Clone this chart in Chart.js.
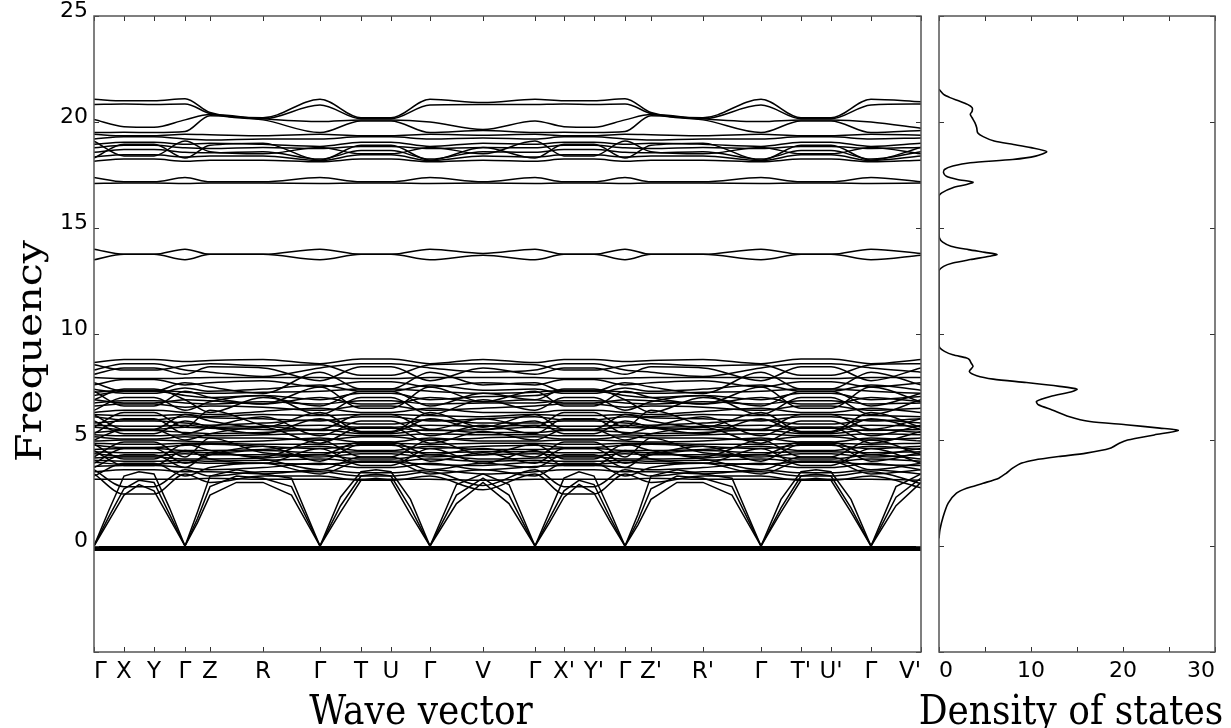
<!DOCTYPE html>
<html><head><meta charset="utf-8">
<script src="https://cdn.jsdelivr.net/npm/chart.js@4"></script>
<style>
html,body{margin:0;padding:0;background:#fff;width:1231px;height:728px;overflow:hidden;position:relative}
canvas{position:absolute;top:0}
.t{position:absolute;font-family:'DejaVu Serif',serif;font-size:36px;line-height:36px;color:#000;white-space:nowrap}
</style></head><body>
<canvas id="bands" width="930" height="728" style="left:0"></canvas>
<canvas id="dos" width="301" height="728" style="left:930px"></canvas>
<div class="t" style="left:29px;top:351px;transform:translate(-50%,-50%) rotate(-90deg) scaleX(1.14)">Frequency</div>
<div class="t" style="left:421px;top:710px;transform:translate(-50%,-50%) scaleY(1.14)">Wave vector</div>
<div class="t" style="left:1071px;top:710px;transform:translate(-50%,-50%) scaleY(1.14)">Density of states</div>
<script>
// ---- high-symmetry path ----
const kLabels = ['Γ','X','Y','Γ','Z','R','Γ','T','U','Γ','V','Γ',"X'","Y'",'Γ',"Z'","R'",'Γ',"T'","U'",'Γ',"V'"];
const kTicks  = [0,0.30,0.60,0.91,1.16,1.69,2.26,2.67,2.97,3.36,3.89,4.41,4.70,5.00,5.31,5.57,6.09,6.67,7.07,7.37,7.77,8.27];
const kAcoustic = [0,0.15,0.30,0.45,0.60,0.755,0.91,1.035,1.16,1.425,1.69,1.975,2.26,2.465,2.67,2.82,2.97,3.165,3.36,3.625,3.89,4.15,4.41,4.555,4.70,4.85,5.00,5.155,5.31,5.44,5.57,5.83,6.09,6.38,6.67,6.87,7.07,7.22,7.37,7.57,7.77,8.02,8.27];
const freqTicks = [0,5,10,15,20,25];
const dosTicks = [0,10,20,30];

// ---- bands (values at the high-symmetry points) ----
const zeroModes = [-0.12,-0.12,-0.12,-0.12,-0.12,-0.12,-0.12,-0.12,-0.12,-0.12,-0.12,-0.12,-0.12,-0.12,-0.12,-0.12,-0.12,-0.12,-0.12,-0.12,-0.12,-0.12];
const acousticBands = [
 [0,1.7,3.3,3.5,3.4,1.8,0,1.6,3.3,3.6,3.4,3.2,0,2.3,3.5,3.6,3.5,2.2,0,2.9,3.4,2.9,0,1.6,3.2,3.5,3.3,1.7,0,1.5,3.3,3.6,3.4,3.2,0,2.2,3.5,3.6,3.5,2.2,0,2.8,3.4],
 [0,1.4,2.7,3.1,3.0,1.5,0,1.3,2.8,3.3,3.2,2.8,0,1.9,3.3,3.4,3.3,1.8,0,2.4,3.2,2.4,0,1.3,2.6,3.1,2.9,1.4,0,1.2,2.7,3.3,3.2,2.8,0,1.8,3.3,3.4,3.3,1.8,0,2.3,3.2],
 [0,1.2,2.4,2.9,2.6,1.3,0,1.1,2.4,3.0,3.0,2.4,0,1.6,3.1,3.2,3.1,1.5,0,2.0,3.0,2.0,0,1.1,2.3,2.9,2.5,1.2,0,1.0,2.2,3.0,3.0,2.4,0,1.6,3.1,3.2,3.1,1.6,0,1.9,3.0]
];
const bandsLow = [
 [3.4,2.45,2.45,3.4,3.0,3.3,3.3,3.1,3.1,3.3,2.65,3.4,2.45,2.45,3.4,3.0,3.3,3.3,3.1,3.1,3.3,2.75],
 [3.6,2.8,2.8,3.6,3.3,3.5,3.5,3.3,3.3,3.5,2.85,3.6,2.8,2.8,3.6,3.3,3.5,3.5,3.3,3.3,3.5,2.95],
 [3.15,3.15,3.15,3.15,3.2,3.15,3.15,3.15,3.15,3.15,3.1,3.15,3.15,3.15,3.15,3.2,3.15,3.15,3.15,3.15,3.15,3.1],
 [3.5,3.6,3.6,3.5,3.5,3.4,3.6,3.45,3.45,3.6,3.4,3.5,3.6,3.6,3.5,3.5,3.4,3.6,3.45,3.45,3.6,3.4],
 [3.75,3.8,3.8,3.7,3.6,3.7,3.9,3.7,3.7,3.9,3.6,3.75,3.8,3.8,3.7,3.6,3.7,3.9,3.7,3.7,3.9,3.6],
 [3.95,3.85,3.85,3.95,3.9,3.9,3.85,3.95,3.95,3.85,3.8,3.95,3.85,3.85,3.95,3.9,3.9,3.85,3.95,3.95,3.85,3.8],
 [3.3,3.9,3.9,3.3,3.7,3.9,3.4,4.0,4.0,3.4,3.6,3.3,3.9,3.9,3.3,3.7,3.9,3.4,4.0,4.0,3.4,3.6],
 [3.7,4.3,4.3,3.7,4.4,4.1,3.6,4.2,4.2,3.6,3.9,3.7,4.3,4.3,3.7,4.4,4.1,3.6,4.2,4.2,3.6,3.9]
];
const bandsMid = [
 [4.05,4.0,4.0,4.05,4.0,4.05,4.1,4.0,4.0,4.1,4.0,4.05,4.0,4.0,4.05,4.0,4.05,4.1,4.0,4.0,4.1,4.0],
 [4.15,4.2,4.2,4.1,4.1,4.15,4.3,4.1,4.1,4.3,4.1,4.15,4.2,4.2,4.1,4.1,4.15,4.3,4.1,4.1,4.3,4.1],
 [4.35,4.25,4.25,4.35,4.3,4.3,4.2,4.35,4.35,4.2,4.3,4.35,4.25,4.25,4.35,4.3,4.3,4.2,4.35,4.35,4.2,4.3],
 [4.45,4.4,4.4,4.45,4.4,4.5,4.4,4.45,4.45,4.4,4.45,4.45,4.4,4.4,4.45,4.4,4.5,4.4,4.45,4.45,4.4,4.45],
 [4.55,4.6,4.6,4.5,4.5,4.55,4.7,4.5,4.5,4.7,4.55,4.55,4.6,4.6,4.5,4.5,4.55,4.7,4.5,4.5,4.7,4.55],
 [4.75,4.65,4.65,4.75,4.8,4.7,4.6,4.75,4.75,4.6,4.7,4.75,4.65,4.65,4.75,4.8,4.7,4.6,4.75,4.75,4.6,4.7],
 [4.85,4.8,4.8,4.85,4.85,4.8,4.8,4.85,4.85,4.8,4.85,4.85,4.8,4.8,4.85,4.85,4.8,4.8,4.85,4.85,4.8,4.85],
 [4.95,5.0,5.0,4.95,4.9,4.95,5.1,4.9,4.9,5.1,4.95,4.95,5.0,5.0,4.95,4.9,4.95,5.1,4.9,4.9,5.1,4.95],
 [5.15,5.05,5.05,5.15,5.1,5.1,5.0,5.15,5.15,5.0,5.1,5.15,5.05,5.05,5.15,5.1,5.1,5.0,5.15,5.15,5.0,5.1],
 [5.25,5.2,5.2,5.25,5.2,5.25,5.3,5.2,5.2,5.3,5.25,5.25,5.2,5.2,5.25,5.2,5.25,5.3,5.2,5.2,5.3,5.25],
 [5.35,5.45,5.45,5.35,5.3,5.35,5.5,5.3,5.3,5.5,5.35,5.35,5.45,5.45,5.35,5.3,5.35,5.5,5.3,5.3,5.5,5.35],
 [5.6,5.5,5.5,5.6,5.55,5.5,5.45,5.55,5.55,5.45,5.5,5.6,5.5,5.5,5.6,5.55,5.5,5.45,5.55,5.55,5.45,5.5],
 [5.7,5.65,5.65,5.7,5.6,5.65,5.7,5.6,5.6,5.7,5.65,5.7,5.65,5.65,5.7,5.6,5.65,5.7,5.6,5.6,5.7,5.65],
 [5.8,5.9,5.9,5.8,5.7,5.8,5.95,5.75,5.75,5.95,5.8,5.8,5.9,5.9,5.8,5.7,5.8,5.95,5.75,5.75,5.95,5.8],
 [6.1,5.95,5.95,6.1,6.05,6.0,5.9,6.1,6.1,5.9,6.0,6.1,5.95,5.95,6.1,6.05,6.0,5.9,6.1,6.1,5.9,6.0],
 [6.2,6.15,6.15,6.2,6.1,6.2,6.15,6.2,6.2,6.15,6.1,6.2,6.15,6.15,6.2,6.1,6.2,6.15,6.2,6.2,6.15,6.1],
 [6.3,6.4,6.4,6.3,6.2,6.35,6.5,6.3,6.3,6.5,6.3,6.3,6.4,6.4,6.3,6.2,6.35,6.5,6.3,6.3,6.5,6.3],
 [6.6,6.7,6.7,6.55,6.6,6.55,6.4,6.6,6.6,6.4,6.5,6.6,6.7,6.7,6.55,6.6,6.55,6.4,6.6,6.6,6.4,6.5],
 [6.75,6.85,6.85,6.75,6.7,6.8,6.7,6.85,6.85,6.7,6.75,6.75,6.85,6.85,6.75,6.7,6.8,6.7,6.85,6.85,6.7,6.75],
 [6.9,6.75,6.75,6.9,6.85,6.7,7.0,6.7,6.7,7.0,6.8,6.9,6.75,6.75,6.9,6.85,6.7,7.0,6.7,6.7,7.0,6.8],
 [7.1,7.3,7.3,7.1,7.0,7.1,6.9,7.2,7.2,6.9,7.05,7.1,7.3,7.3,7.1,7.0,7.1,6.9,7.2,7.2,6.9,7.05],
 [7.25,7.35,7.35,7.25,7.2,7.25,7.3,7.4,7.4,7.3,7.2,7.25,7.35,7.35,7.25,7.2,7.25,7.3,7.4,7.4,7.3,7.2],
 [7.4,7.2,7.2,7.45,7.3,7.4,7.6,7.3,7.3,7.6,7.35,7.4,7.2,7.2,7.45,7.3,7.4,7.6,7.3,7.3,7.6,7.35]
];
const bandsCross = [
 [3.9,4.6,4.6,3.9,4.3,4.7,4.0,4.8,4.8,4.0,4.4,3.9,4.6,4.6,3.9,4.3,4.7,4.0,4.8,4.8,4.0,4.4],
 [4.5,3.8,3.8,4.5,4.1,3.9,4.6,3.8,3.8,4.6,3.9,4.5,3.8,3.8,4.5,4.1,3.9,4.6,3.8,3.8,4.6,3.9],
 [4.2,4.9,4.9,4.2,5.1,4.4,4.3,4.9,4.9,4.3,4.6,4.2,4.9,4.9,4.2,5.1,4.4,4.3,4.9,4.9,4.3,4.6],
 [4.8,4.1,4.1,4.8,4.5,4.2,5.0,4.2,4.2,5.0,4.3,4.8,4.1,4.1,4.8,4.5,4.2,5.0,4.2,4.2,5.0,4.3],
 [5.0,5.5,5.5,5.0,5.3,5.6,4.85,5.6,5.6,4.85,5.4,5.0,5.5,5.5,5.0,5.3,5.6,4.85,5.6,5.6,4.85,5.4],
 [5.3,6.0,6.0,5.3,5.6,6.1,5.2,5.9,5.9,5.2,5.7,5.3,6.0,6.0,5.3,5.6,6.1,5.2,5.9,5.9,5.2,5.7],
 [5.6,6.3,6.3,5.6,6.4,5.7,5.5,6.2,6.2,5.5,6.0,5.6,6.3,6.3,5.6,6.4,5.7,5.5,6.2,6.2,5.5,6.0],
 [5.9,5.3,5.3,5.9,5.6,5.3,6.0,5.35,5.35,6.0,5.5,5.9,5.3,5.3,5.9,5.6,5.3,6.0,5.35,5.35,6.0,5.5],
 [6.2,5.5,5.5,6.2,5.9,5.6,6.3,5.4,5.4,6.3,5.6,6.2,5.5,5.5,6.2,5.9,5.6,6.3,5.4,5.4,6.3,5.6],
 [6.4,7.0,7.0,6.4,6.8,7.1,6.2,7.0,7.0,6.2,6.9,6.4,7.0,7.0,6.4,6.8,7.1,6.2,7.0,7.0,6.2,6.9],
 [6.9,7.4,7.4,6.9,6.3,7.0,6.6,7.3,7.3,6.6,7.2,6.9,7.4,7.4,6.9,6.3,7.0,6.6,7.3,7.3,6.6,7.2],
 [7.3,6.6,6.6,7.3,7.0,6.7,7.5,6.5,6.5,7.5,6.8,7.3,6.6,6.6,7.3,7.0,6.7,7.5,6.5,6.5,7.5,6.8],
 [7.7,7.3,7.3,7.7,7.5,7.2,8.2,7.4,7.4,8.2,7.6,7.7,7.3,7.3,7.7,7.5,7.2,8.2,7.4,7.4,8.2,7.6],
 [8.1,8.4,8.4,8.1,8.45,8.4,7.8,8.45,8.45,7.8,8.4,8.1,8.4,8.4,8.1,8.45,8.4,7.8,8.45,8.45,7.8,8.4]
];
const bandsUpper = [
 [7.6,7.85,7.85,7.6,7.7,7.8,7.5,7.75,7.75,7.5,7.7,7.6,7.85,7.85,7.6,7.7,7.8,7.5,7.75,7.75,7.5,7.7],
 [7.95,7.9,7.9,7.92,7.95,7.95,7.95,7.9,7.9,7.95,7.95,7.95,7.9,7.9,7.92,7.95,7.95,7.95,7.9,7.9,7.95,7.95],
 [8.3,8.6,8.6,8.3,8.2,8.0,8.4,8.6,8.6,8.4,8.2,8.3,8.6,8.6,8.3,8.2,8.0,8.4,8.6,8.6,8.4,8.2],
 [8.55,8.3,8.3,8.5,8.6,8.5,8.55,8.05,8.05,8.55,8.6,8.55,8.3,8.3,8.5,8.6,8.5,8.55,8.05,8.05,8.55,8.6],
 [8.65,8.8,8.8,8.7,8.75,8.8,8.6,8.82,8.82,8.6,8.8,8.65,8.8,8.8,8.7,8.75,8.8,8.6,8.82,8.82,8.6,8.8]
];
const bands14 = [
 [14.0,13.76,13.76,14.0,13.76,13.76,14.0,13.76,13.76,14.0,13.8,14.0,13.76,13.76,14.0,13.76,13.76,14.0,13.76,13.76,14.0,13.8],
 [13.5,13.76,13.76,13.5,13.76,13.76,13.5,13.76,13.76,13.5,13.72,13.5,13.76,13.76,13.5,13.76,13.76,13.5,13.76,13.76,13.5,13.72]
];
const bands17 = [
 [17.1,17.12,17.12,17.1,17.12,17.12,17.1,17.12,17.12,17.1,17.12,17.1,17.12,17.12,17.1,17.12,17.12,17.1,17.12,17.12,17.1,17.12],
 [17.38,17.18,17.18,17.38,17.18,17.18,17.38,17.18,17.18,17.38,17.18,17.38,17.18,17.18,17.38,17.18,17.18,17.38,17.18,17.18,17.38,17.18]
];
const bands19 = [
 [19.42,19.35,19.35,19.42,19.4,19.35,19.42,19.35,19.35,19.42,19.38,19.42,19.35,19.35,19.42,19.4,19.35,19.42,19.35,19.35,19.42,19.38],
 [19.2,19.3,19.3,19.2,19.15,19.2,19.2,19.3,19.3,19.2,19.25,19.2,19.3,19.3,19.2,19.15,19.2,19.2,19.3,19.3,19.2,19.25],
 [18.95,19.05,19.05,18.95,19.0,18.95,18.85,19.05,19.05,18.85,19.0,18.95,19.05,19.05,18.95,19.0,18.95,18.85,19.05,19.05,18.85,19.0],
 [18.78,18.9,18.9,18.78,18.75,18.8,18.75,18.85,18.85,18.75,18.8,18.78,18.9,18.9,18.78,18.75,18.8,18.75,18.85,18.85,18.75,18.8],
 [18.57,18.7,18.7,18.57,18.55,18.6,18.25,18.65,18.65,18.25,18.6,18.57,18.7,18.7,18.57,18.55,18.6,18.25,18.65,18.65,18.25,18.6],
 [18.35,18.45,18.45,18.35,18.4,18.4,18.18,18.45,18.45,18.18,18.4,18.35,18.45,18.45,18.35,18.4,18.4,18.18,18.45,18.45,18.18,18.4],
 [18.15,18.25,18.25,18.15,18.2,18.2,18.12,18.25,18.25,18.12,18.2,18.15,18.25,18.25,18.15,18.2,18.2,18.12,18.25,18.25,18.12,18.2],
 [18.3,18.95,18.95,18.3,18.9,19.0,18.2,18.9,18.9,18.2,18.8,18.3,18.95,18.95,18.3,18.9,19.0,18.2,18.9,18.9,18.2,18.8],
 [19.1,18.4,18.4,19.1,18.6,18.5,18.8,18.5,18.5,18.8,18.5,19.1,18.4,18.4,19.1,18.6,18.5,18.8,18.5,18.5,18.8,18.5]
];
const bandsTop = [
 [21.07,21.0,21.0,21.1,20.45,20.2,21.07,20.2,20.2,21.07,20.92,21.07,21.0,21.0,21.1,20.45,20.2,21.07,20.2,20.2,21.07,20.95],
 [20.83,20.85,20.83,20.85,20.4,20.15,20.8,20.15,20.15,20.8,20.82,20.83,20.85,20.83,20.85,20.4,20.15,20.8,20.15,20.15,20.8,20.85],
 [20.12,19.78,19.75,20.1,20.35,20.15,20.02,20.1,20.1,20.0,19.65,20.05,19.78,19.75,20.1,20.35,20.15,20.02,20.1,20.1,20.0,19.7],
 [19.5,19.52,19.5,19.55,20.3,20.1,19.5,20.05,20.05,19.5,19.6,19.5,19.52,19.5,19.55,20.3,20.1,19.5,20.05,20.05,19.5,19.6]
];

// ---- density of states ----
const dosFreq  = [0.36,0.76,1.38,2.02,2.49,2.72,2.96,3.2,3.43,3.67,3.91,4.06,4.22,4.38,4.61,4.85,5.0,5.24,5.45,5.56,5.72,5.87,6.11,6.42,6.66,6.82,7.05,7.29,7.4,7.53,7.71,7.87,8.03,8.23,8.47,8.63,8.79,8.87,9.02,9.18,9.34,9.49,12.96,13.19,13.35,13.51,13.67,13.75,13.85,13.98,14.14,14.33,14.53,14.77,16.5,16.66,16.9,17.05,17.16,17.29,17.44,17.6,17.76,17.92,18.08,18.23,18.39,18.6,18.79,18.94,19.1,19.31,19.49,19.73,19.97,20.2,20.36,20.51,20.68,20.83,20.99,21.15,21.3,21.54];
const dosValue = [0,0.1,0.45,1.0,1.9,3.0,4.8,6.5,7.3,8.0,9.0,10.4,13.0,16.0,18.6,19.6,20.5,23.4,26.0,24.0,20.3,16.4,14.1,12.3,10.8,10.6,12.1,14.5,15.0,13.1,9.5,5.9,4.1,3.3,3.7,3.5,3.3,3.0,1.5,0.6,0.1,0,0,0.5,1.5,3.4,5.5,6.3,5.0,3.2,1.3,0.4,0.05,0,0,0.3,1.5,3.0,3.7,2.0,0.8,0.5,0.6,1.5,3.4,8.0,10.5,11.7,10.0,8.1,6.0,4.8,4.2,4.1,3.9,3.6,3.4,3.6,3.6,3.1,2.2,1.2,0.5,0];

// ---- helpers ----
function bandSet(vals, xs, extra){
  return Object.assign({
    data: vals.map((v,i)=>({x:xs[i], y:v})),
    borderColor:'#000', borderWidth:1.5, pointRadius:0, fill:false,
    cubicInterpolationMode:'monotone'
  }, extra||{});
}
const frame = {
  id:'frame',
  afterDraw(chart){
    const {ctx, chartArea:a, scales} = chart;
    ctx.save();
    ctx.strokeStyle = '#333'; ctx.lineWidth = 1;
    const seg=(x1,y1,x2,y2)=>{ctx.beginPath();ctx.moveTo(x1,y1);ctx.lineTo(x2,y2);ctx.stroke();};
    scales.x.ticks.forEach(t=>{const p=Math.round(scales.x.getPixelForValue(t.value))+0.5; seg(p,a.bottom,p,a.bottom-5); seg(p,a.top,p,a.top+5);});
    scales.y.ticks.forEach(t=>{const p=Math.round(scales.y.getPixelForValue(t.value))+0.5; seg(a.left,p,a.left+5,p); seg(a.right,p,a.right-5,p);});
    ctx.strokeStyle = '#555'; ctx.lineWidth = 1.5;
    ctx.strokeRect(a.left, a.top, a.right-a.left, a.bottom-a.top);
    ctx.restore();
  }
};
const noPadX = s=>{s.height=76; s.paddingLeft=0; s.paddingRight=0;};
const tickFont = {family:'DejaVu Sans', size:22};

// ---- band structure chart ----
const ds = [];
ds.push(bandSet(zeroModes, kTicks, {borderWidth:5, cubicInterpolationMode:'default', tension:0}));
acousticBands.forEach(b=>ds.push(bandSet(b, kAcoustic, {cubicInterpolationMode:'default', tension:0})));
[bandsLow, bandsMid, bandsCross, bandsUpper, bands14, bands17, bands19, bandsTop].forEach(g=>g.forEach(b=>ds.push(bandSet(b, kTicks))));

new Chart(document.getElementById('bands'), {
  type:'line',
  data:{datasets:ds},
  options:{
    responsive:false, animation:false, events:[],
    layout:{padding:{top:16,right:9,left:0,bottom:0}},
    plugins:{legend:{display:false}, tooltip:{enabled:false}},
    scales:{
      x:{type:'linear', min:kTicks[0], max:kTicks[kTicks.length-1],
         afterBuildTicks:s=>{s.ticks = kTicks.map(v=>({value:v}));},
         ticks:{autoSkip:false, maxRotation:0, minRotation:0, padding:6, color:'#000', align:'inner',
                font:{family:'DejaVu Sans', size:23},
                callback:(v,i)=>kLabels[i]},
         grid:{display:false, drawTicks:false}, border:{display:false},
         afterFit:noPadX},
      y:{type:'linear', min:-5, max:25,
         afterBuildTicks:s=>{s.ticks = [-5].concat(freqTicks).map(v=>({value:v}));},
         ticks:{padding:6, color:'#000', font:tickFont, labelOffset:-5,
                callback:v=> v<0 ? '' : String(v)},
         grid:{display:false, drawTicks:false}, border:{display:false},
         afterFit:s=>{s.width=94; s.paddingTop=0; s.paddingBottom=0;}}
    }
  },
  plugins:[frame]
});

// ---- DOS chart ----
new Chart(document.getElementById('dos'), {
  type:'scatter',
  data:{datasets:[{
    data: dosFreq.map((f,i)=>({x:dosValue[i], y:f})),
    showLine:true, borderColor:'#000', borderWidth:1.6, pointRadius:0, tension:0.25, fill:false
  }]},
  options:{
    responsive:false, animation:false, events:[],
    layout:{padding:{top:16,right:16,left:0,bottom:0}},
    plugins:{legend:{display:false}, tooltip:{enabled:false}},
    scales:{
      x:{type:'linear', min:0, max:30,
         ticks:{stepSize:5, autoSkip:false, maxRotation:0, padding:6, color:'#000', font:tickFont, align:'inner',
                callback:v=> dosTicks.includes(v) ? String(v) : ''},
         grid:{display:false, drawTicks:false}, border:{display:false},
         afterFit:noPadX},
      y:{type:'linear', min:-5, max:25,
         ticks:{stepSize:5, display:false},
         grid:{display:false, drawTicks:false}, border:{display:false},
         afterFit:s=>{s.width=9; s.paddingTop=0; s.paddingBottom=0;}}
    }
  },
  plugins:[frame]
});
</script>
</body></html>
